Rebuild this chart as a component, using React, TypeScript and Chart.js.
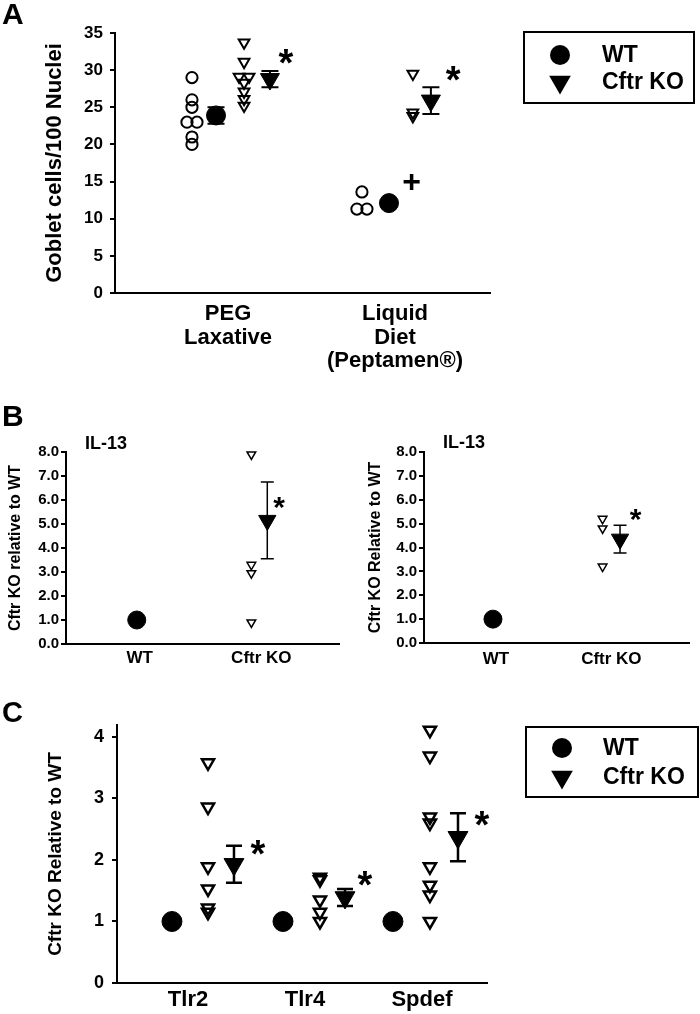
import React, { useEffect, useRef } from "react";
import { Chart, registerables } from "chart.js";

Chart.register(...registerables);

const FONT = "'Liberation Sans', Arial, Helvetica, sans-serif";
const SERIES = ["WT", "Cftr KO"];

// ---------- Panel A : goblet cells ----------
const A_CATEGORIES = [["PEG", "Laxative"], ["Liquid", "Diet", "(Peptamen®)"]];
const A_CAT_POS = [1, 2];
const A_Y_TICKS = [0, 5, 10, 15, 20, 25, 30, 35];
const A_WT_X = [0.784, 0.784, 0.784, 0.754, 0.814, 0.784, 0.784, 1.802, 1.772, 1.832];
const A_WT_Y = [29, 26, 25, 23, 23, 21, 20, 13.6, 11.3, 11.3];
const A_WT_MEAN_X = [0.928, 1.964];
const A_WT_MEAN_Y = [23.9, 12.1];
const A_WT_SEM = [1.1, 0.4];
const A_KO_X = [1.096, 1.096, 1.066, 1.126, 1.096, 1.096, 1.096, 1.096, 2.107, 2.107, 2.107];
const A_KO_Y = [33.7, 31.1, 29.1, 29.1, 28.3, 27.1, 26.1, 25.2, 29.5, 24.3, 23.8];
const A_KO_MEAN_X = [1.251, 2.215];
const A_KO_MEAN_Y = [28.8, 25.9];
const A_KO_SEM = [1.1, 1.8];
const A_MARK_X = [1.347, 2.349, 2.1];
const A_MARK_Y = [31.8, 29.6, 15.0];
const A_MARK_TEXT = ["*", "*", "+"];

// ---------- Panel B : IL-13 ----------
const B_CATEGORIES = ["WT", "Cftr KO"];
const B_CAT_POS = [1, 2];
const B_Y_TICKS = [0, 1, 2, 3, 4, 5, 6, 7, 8];
// left
const B1_WT_X = [0.975];
const B1_WT_Y = [1.0];
const B1_KO_X = [1.918, 1.918, 1.918, 1.918];
const B1_KO_Y = [7.9, 3.3, 2.95, 0.9];
const B1_KO_MEAN_X = [2.049];
const B1_KO_MEAN_Y = [5.15];
const B1_KO_SEM = [1.6];
const B1_MARK_X = [2.147];
const B1_MARK_Y = [5.88];
const B1_MARK_TEXT = ["*"];
// right
const B2_WT_X = [0.975];
const B2_WT_Y = [1.0];
const B2_KO_X = [1.924, 1.924, 1.924];
const B2_KO_Y = [5.2, 4.8, 3.2];
const B2_KO_MEAN_X = [2.075];
const B2_KO_MEAN_Y = [4.35];
const B2_KO_SEM = [0.58];
const B2_MARK_X = [2.21];
const B2_MARK_Y = [5.36];
const B2_MARK_TEXT = ["*"];

// ---------- Panel C : Tlr2 / Tlr4 / Spdef ----------
const C_CATEGORIES = ["Tlr2", "Tlr4", "Spdef"];
const C_CAT_POS = [1, 2, 3];
const C_Y_TICKS = [0, 1, 2, 3, 4];
const C_WT_X = [0.863, 1.812, 2.752];
const C_WT_Y = [1.0, 1.0, 1.0];
const C_KO_X = [
  1.171, 1.171, 1.171, 1.171, 1.171, 1.171,
  2.128, 2.128, 2.128, 2.128, 2.128,
  3.068, 3.068, 3.068, 3.068, 3.068, 3.068, 3.068, 3.068,
];
const C_KO_Y = [
  3.58, 2.86, 1.89, 1.53, 1.22, 1.15,
  1.72, 1.68, 1.35, 1.15, 1.0,
  4.11, 3.69, 2.7, 2.6, 1.89, 1.59, 1.43, 1.0,
];
const C_KO_MEAN_X = [1.393, 2.342, 3.308];
const C_KO_MEAN_Y = [1.93, 1.39, 2.37];
const C_KO_SEM = [0.3, 0.14, 0.39];
const C_MARK_X = [1.598, 2.513, 3.513];
const C_MARK_Y = [2.2, 1.7, 2.68];
const C_MARK_TEXT = ["*", "*", "*"];

// ---------- helpers ----------
const pts = (xs: number[], ys: number[]) => xs.map((x, i) => ({ x, y: ys[i] }));

function marker(kind: "openCircle" | "dot" | "openTri" | "tri", r: number, bw: number) {
  const circle = kind === "openCircle" || kind === "dot";
  const filled = kind === "dot" || kind === "tri";
  return {
    showLine: false,
    clip: false,
    pointStyle: circle ? "circle" : "triangle",
    pointRotation: circle ? 0 : 180,
    pointRadius: r,
    pointHoverRadius: r,
    pointBackgroundColor: filled ? "#000" : "rgba(0,0,0,0)",
    pointBorderColor: "#000",
    pointBorderWidth: bw,
  };
}

function errorBarPlugin(capWidth: number, lineWidth: number) {
  return {
    id: "errorBars",
    beforeDatasetsDraw(chart: any) {
      const { ctx, scales } = chart;
      chart.data.datasets.forEach((ds: any) => {
        if (!ds.sem) return;
        ds.data.forEach((p: any, j: number) => {
          const x = scales.x.getPixelForValue(p.x);
          const yT = scales.y.getPixelForValue(p.y + ds.sem[j]);
          const yB = scales.y.getPixelForValue(p.y - ds.sem[j]);
          const h = capWidth / 2;
          ctx.save();
          ctx.strokeStyle = "#000";
          ctx.lineWidth = lineWidth;
          ctx.beginPath();
          ctx.moveTo(x, yT);
          ctx.lineTo(x, yB);
          ctx.moveTo(x - h, yT);
          ctx.lineTo(x + h, yT);
          ctx.moveTo(x - h, yB);
          ctx.lineTo(x + h, yB);
          ctx.stroke();
          ctx.restore();
        });
      });
    },
  };
}

function textMarksPlugin(xs: number[], ys: number[], texts: string[], size: number) {
  return {
    id: "textMarks",
    afterDatasetsDraw(chart: any) {
      const { ctx, scales } = chart;
      ctx.save();
      ctx.fillStyle = "#000";
      ctx.font = `bold ${size}px ${FONT}`;
      ctx.textAlign = "center";
      ctx.textBaseline = "alphabetic";
      texts.forEach((t, i) => {
        const px = scales.x.getPixelForValue(xs[i]);
        const py = scales.y.getPixelForValue(ys[i]);
        const m = ctx.measureText(t);
        ctx.fillText(t, px, py + (m.actualBoundingBoxAscent - m.actualBoundingBoxDescent) / 2);
      });
      ctx.restore();
    },
  };
}

function boxLegendPlugin(box: number[], markerX: number, rowY: number[], textX: number, size: number) {
  return {
    id: "boxLegend",
    afterDraw(chart: any) {
      const ctx = chart.ctx;
      ctx.save();
      ctx.strokeStyle = "#000";
      ctx.lineWidth = 2;
      ctx.strokeRect(box[0], box[1], box[2], box[3]);
      ctx.fillStyle = "#000";
      ctx.beginPath();
      ctx.arc(markerX, rowY[0], 10, 0, Math.PI * 2);
      ctx.fill();
      const r = 12.5;
      ctx.beginPath();
      ctx.moveTo(markerX, rowY[1] + r);
      ctx.lineTo(markerX - r * 0.866, rowY[1] - r / 2);
      ctx.lineTo(markerX + r * 0.866, rowY[1] - r / 2);
      ctx.closePath();
      ctx.fill();
      ctx.font = `bold ${size}px ${FONT}`;
      ctx.textAlign = "left";
      ctx.textBaseline = "middle";
      ctx.fillText(SERIES[0], textX, rowY[0] + 1);
      ctx.fillText(SERIES[1], textX, rowY[1] + 1);
      ctx.restore();
    },
  };
}

function yScale(o: any) {
  return {
    type: "linear",
    min: o.min,
    max: o.max,
    afterBuildTicks: (s: any) => {
      s.ticks = o.ticks.map((v: number) => ({ value: v }));
    },
    afterFit: (s: any) => {
      s.width = o.width;
    },
    ticks: {
      color: "#000",
      padding: o.tickPad,
      font: { family: FONT, size: o.tickSize, weight: "bold" },
      callback: (v: number) => (o.decimals ? Number(v).toFixed(o.decimals) : String(v)),
    },
    grid: {
      display: true,
      drawOnChartArea: false,
      drawTicks: true,
      tickLength: o.tickLen,
      color: "#000",
      lineWidth: 2,
    },
    border: { display: true, color: "#000", width: 2 },
    title: {
      display: true,
      text: o.title,
      color: "#000",
      font: { family: FONT, size: o.titleSize, weight: "bold", lineHeight: 1.2 },
      padding: { top: o.titlePad, bottom: 0 },
    },
  };
}

function xScale(o: any) {
  return {
    type: "linear",
    min: o.min,
    max: o.max,
    afterBuildTicks: (s: any) => {
      s.ticks = o.pos.map((v: number) => ({ value: v }));
    },
    afterFit: (s: any) => {
      s.height = o.height;
    },
    ticks: {
      color: "#000",
      padding: o.pad,
      autoSkip: false,
      maxRotation: 0,
      minRotation: 0,
      font: { family: FONT, size: o.size, weight: "bold", lineHeight: o.lineHeight },
      callback: (_v: number, i: number) => o.labels[i],
    },
    grid: { display: false, drawTicks: false },
    border: { display: true, color: "#000", width: 2 },
  };
}

function baseOptions(padding: any, x: any, y: any) {
  return {
    responsive: false,
    animation: false,
    events: [],
    layout: { padding },
    plugins: { legend: { display: false }, tooltip: { enabled: false }, title: { display: false } },
    scales: { x, y },
  };
}

// ---------- chart configs ----------
function makeA(): any {
  return {
    type: "scatter",
    data: {
      datasets: [
        { data: pts(A_KO_MEAN_X, A_KO_MEAN_Y), sem: A_KO_SEM, ...marker("tri", 11, 1) },
        { data: pts(A_WT_MEAN_X, A_WT_MEAN_Y), sem: A_WT_SEM, ...marker("dot", 9.5, 1) },
        { data: pts(A_KO_X, A_KO_Y), ...marker("openTri", 6.2, 2) },
        { data: pts(A_WT_X, A_WT_Y), ...marker("openCircle", 5.6, 2) },
      ],
    },
    options: baseOptions(
      { left: 0, top: 33, right: 210, bottom: 0 },
      xScale({ min: 0.323, max: 2.569, pos: A_CAT_POS, labels: A_CATEGORIES, height: 82, size: 22, pad: 9, lineHeight: 1.08 }),
      yScale({ min: 0, max: 35, ticks: A_Y_TICKS, width: 115, tickPad: 7, tickLen: 5, tickSize: 17, title: "Goblet cells/100 Nuclei", titleSize: 22, titlePad: 41.8 })
    ),
    plugins: [
      errorBarPlugin(17, 2),
      textMarksPlugin(A_MARK_X.slice(0, 2), A_MARK_Y.slice(0, 2), A_MARK_TEXT.slice(0, 2), 38),
      textMarksPlugin(A_MARK_X.slice(2), A_MARK_Y.slice(2), A_MARK_TEXT.slice(2), 32),
      boxLegendPlugin([524, 32, 170, 71], 560, [55, 82], 602, 23),
    ],
  };
}

function makeB(wtX: number[], wtY: number[], koX: number[], koY: number[], mX: number[], mY: number[], sem: number[], sX: number[], sY: number[], sT: string[], isRight: boolean): any {
  return {
    type: "scatter",
    data: {
      datasets: [
        { data: pts(mX, mY), sem, ...marker("tri", 10, 1) },
        { data: pts(wtX, wtY), ...marker("dot", 9, 1) },
        { data: pts(koX, koY), ...marker("openTri", 5, 1.5) },
      ],
    },
    options: baseOptions(
      isRight ? { left: 0, top: 72, right: 3, bottom: 0 } : { left: 0, top: 72, right: 10, bottom: 0 },
      xScale(
        isRight
          ? { min: 0.378, max: 2.672, pos: B_CAT_POS, labels: B_CATEGORIES, height: 27, size: 17, pad: 6, lineHeight: 1.2 }
          : { min: 0.393, max: 2.639, pos: B_CAT_POS, labels: B_CATEGORIES, height: 26, size: 17, pad: 4, lineHeight: 1.2 }
      ),
      yScale({
        min: 0,
        max: 8,
        ticks: B_Y_TICKS,
        decimals: 1,
        width: isRight ? 74 : 66,
        tickPad: 2,
        tickLen: 5,
        tickSize: 15,
        title: isRight ? "Cftr KO Relative to WT" : "Cftr KO relative to WT",
        titleSize: 16,
        titlePad: isRight ? 16.4 : 6.4,
      })
    ),
    plugins: [errorBarPlugin(13, 1.5), textMarksPlugin(sX, sY, sT, 30)],
  };
}

function makeC(): any {
  return {
    type: "scatter",
    data: {
      datasets: [
        { data: pts(C_KO_MEAN_X, C_KO_MEAN_Y), sem: C_KO_SEM, ...marker("tri", 11.5, 1) },
        { data: pts(C_WT_X, C_WT_Y), ...marker("dot", 10, 1) },
        { data: pts(C_KO_X, C_KO_Y), ...marker("openTri", 7, 2.5) },
      ],
    },
    options: baseOptions(
      { left: 0, top: 45, right: 213, bottom: 0 },
      xScale({ min: 0.393, max: 3.556, pos: C_CAT_POS, labels: C_CATEGORIES, height: 31, size: 22, pad: 4, lineHeight: 1.2 }),
      yScale({ min: 0, max: 4.195, ticks: C_Y_TICKS, width: 117, tickPad: 8, tickLen: 5, tickSize: 18, title: "Cftr KO Relative to WT", titleSize: 19, titlePad: 44.6 })
    ),
    plugins: [
      errorBarPlugin(16, 2.5),
      textMarksPlugin(C_MARK_X, C_MARK_Y, C_MARK_TEXT, 38),
      boxLegendPlugin([526, 47, 172, 70], 562, [68, 97], 603, 23),
    ],
  };
}

function PanelChart(props: { left: number; top: number; width: number; height: number; make: () => any }) {
  const ref = useRef<HTMLCanvasElement>(null);
  useEffect(() => {
    const chart = new Chart(ref.current as HTMLCanvasElement, props.make());
    return () => chart.destroy();
  }, []);
  return (
    <canvas
      ref={ref}
      width={props.width}
      height={props.height}
      style={{ position: "absolute", left: props.left, top: props.top, width: props.width, height: props.height, display: "block" }}
    />
  );
}

function Label(props: { left: number; top: number; size: number; text: string }) {
  return (
    <div
      style={{
        position: "absolute",
        left: props.left,
        top: props.top,
        fontFamily: FONT,
        fontWeight: "bold",
        fontSize: props.size,
        lineHeight: `${props.size}px`,
        color: "#000",
        whiteSpace: "nowrap",
      }}
    >
      {props.text}
    </div>
  );
}

export default function App() {
  return (
    <div style={{ position: "absolute", left: 0, top: 0, width: 700, height: 1014, background: "#fff", overflow: "hidden" }}>
      <PanelChart left={0} top={0} width={700} height={375} make={makeA} />
      <PanelChart
        left={0}
        top={380}
        width={350}
        height={290}
        make={() => makeB(B1_WT_X, B1_WT_Y, B1_KO_X, B1_KO_Y, B1_KO_MEAN_X, B1_KO_MEAN_Y, B1_KO_SEM, B1_MARK_X, B1_MARK_Y, B1_MARK_TEXT, false)}
      />
      <PanelChart
        left={350}
        top={380}
        width={350}
        height={290}
        make={() => makeB(B2_WT_X, B2_WT_Y, B2_KO_X, B2_KO_Y, B2_KO_MEAN_X, B2_KO_MEAN_Y, B2_KO_SEM, B2_MARK_X, B2_MARK_Y, B2_MARK_TEXT, true)}
      />
      <PanelChart left={0} top={680} width={700} height={334} make={makeC} />
      <Label left={2} top={-1} size={30} text="A" />
      <Label left={2} top={401} size={30} text="B" />
      <Label left={2} top={698} size={29} text="C" />
      <Label left={85} top={434} size={18} text="IL-13" />
      <Label left={443} top={433} size={18} text="IL-13" />
    </div>
  );
}
